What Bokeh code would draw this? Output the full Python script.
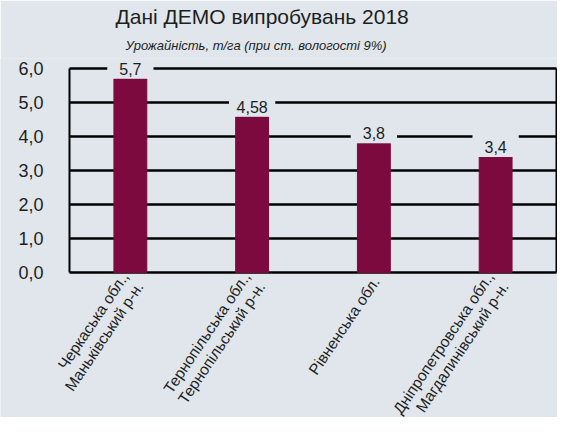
from bokeh.plotting import figure
from bokeh.models import ColumnDataSource, Range1d, Title
from bokeh.core.properties import value
from bokeh.embed import file_html
from bokeh.resources import INLINE

categories = ["Черкаська обл.,\nМаньківський р-н.",
              "Тернопільська обл.,\nТернопільський р-н.",
              "Рівненська обл.",
              "Дніпропетровська обл.,\nМагдалинівський р-н."]
yields = [5.7, 4.58, 3.8, 3.4]
value_labels = ["5,7", "4,58", "3,8", "3,4"]
y_ticks = [0, 1, 2, 3, 4, 5, 6]
y_tick_labels = ["0,0", "1,0", "2,0", "3,0", "4,0", "5,0", "6,0"]

BG = "#e0e6ec"
BAR = "#7d0a3e"
TXT = "#1e1e1e"
FONT = "Liberation Sans"

n = len(categories)
xpos = [i + 0.5 for i in range(n)]
src = ColumnDataSource(dict(x=xpos, cat=categories, val=yields, lab=value_labels,
                            mask_top=[v + 0.7 for v in yields],
                            zero=[0] * n))
ticks = ColumnDataSource(dict(y=y_ticks, lab=y_tick_labels,
                              x0=[0] * len(y_ticks), x1=[n] * len(y_ticks)))

# the frame fills the canvas below the titles, so that the tick labels and the
# rotated category labels are drawn as text inside it
p = figure(x_range=Range1d(-0.5667, n + 0.0082), y_range=Range1d(-4.265, 6.294),
           width=557, height=417, output_backend="svg", toolbar_location=None,
           background_fill_color=BG, border_fill_color=BG,
           min_border_left=0, min_border_right=0, min_border_top=58,
           min_border_bottom=0)
p.title = None
p.outline_line_color = None
p.xgrid.visible = False
p.ygrid.visible = False
p.xaxis.visible = False
p.yaxis.visible = False

# horizontal grid lines (top and bottom ones close the frame)
p.segment(x0="x0", y0="y", x1="x1", y1="y", source=ticks, line_color="black", line_width=2.5)
# left and right frame lines
p.segment(x0=[0, n], y0=[y_ticks[0]] * 2, x1=[0, n], y1=[y_ticks[-1]] * 2,
          line_color="black", line_width=2)
# y tick labels
p.text(x="x0", y="y", text="lab", source=ticks, text_align="right", text_baseline="middle",
       x_offset=-26, text_font=value(FONT), text_font_size=value("18px"), text_color=TXT)

p.vbar(x="x", top="val", bottom=0, width=0.27, fill_color=BAR, line_color=BAR, source=src)
# label backgrounds masking the grid lines
p.vbar(x="x", top="mask_top", bottom="val", width=0.38, fill_color=BG, line_color=None, source=src)
p.text(x="x", y="val", text="lab", source=src, text_align="center",
       text_baseline="bottom", y_offset=-4, text_font=value(FONT),
       text_font_size=value("16px"), text_color=TXT)

# category labels, rotated
p.text(x="x", y="zero", text="cat", source=src, angle=56, angle_units="deg",
       text_align="right", text_baseline="middle", x_offset=2, y_offset=6,
       text_font=value(FONT), text_font_size=value("15.5px"), text_color=TXT,
       text_line_height=1.05)

p.add_layout(Title(text="Урожайність, т/га (при ст. вологості 9%)", text_font=FONT,
                   text_font_style="italic", text_font_size="13px", align="left",
                   offset=125, standoff=11, text_color=TXT), "above")
p.add_layout(Title(text="Дані ДЕМО випробувань 2018", text_font=FONT,
                   text_font_style="normal", text_font_size="21px", align="left",
                   offset=115, standoff=5, text_color=TXT), "above")

open("out.html", "w").write(file_html(p, INLINE))
